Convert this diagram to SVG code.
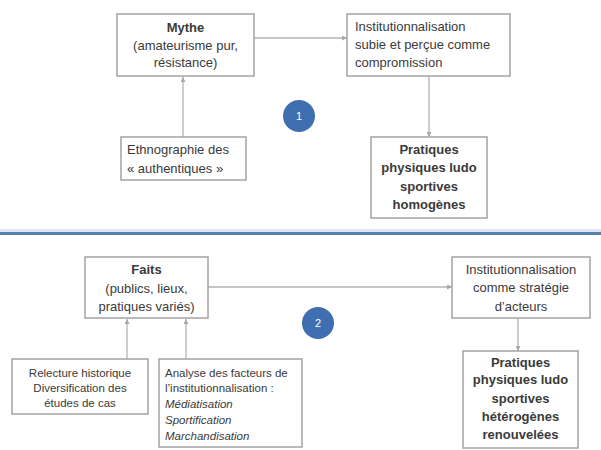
<svg xmlns="http://www.w3.org/2000/svg" width="601" height="450" viewBox="0 0 601 450">
<style>
.box{fill:#ffffff;stroke:#a3a3a3;stroke-width:1.5}
.con{fill:none;stroke:#b3b3b3;stroke-width:1.3;marker-end:url(#ah)}
text{font-family:"Liberation Sans",Arial,sans-serif;font-size:13px;fill:#3a3a3a}
.b{font-weight:bold}
.c{text-anchor:middle}
.s{font-size:11.5px}
.it{font-style:italic}
.num{fill:#ffffff;font-size:11px;text-anchor:middle}
</style>
<defs>
<marker id="ah" viewBox="0 0 6 6" refX="6" refY="3" markerWidth="5" markerHeight="5" orient="auto" markerUnits="userSpaceOnUse">
<path d="M0,0 L6,3 L0,6 z" fill="#a8a8a8"/>
</marker>
</defs>
<rect width="601" height="450" fill="#ffffff"/>
<rect x="0" y="229" width="601" height="3" fill="#dce6f1"/>
<rect x="0" y="232" width="601" height="3" fill="#5580b0"/>
<g id="connectors">
<line class="con" x1="254" y1="38" x2="347" y2="38"/>
<line class="con" x1="183" y1="137" x2="183" y2="77"/>
<line class="con" x1="429" y1="76" x2="429" y2="137"/>
<line class="con" x1="208" y1="287" x2="452" y2="287"/>
<line class="con" x1="127" y1="359" x2="127" y2="319"/>
<line class="con" x1="186" y1="359" x2="186" y2="319"/>
<line class="con" x1="518" y1="318" x2="518" y2="351"/>
</g>
<g id="mythe">
<rect class="box" x="117" y="14" width="137" height="62"/>
<text class="c b" x="185.5" y="32">Mythe</text>
<text class="c" x="185.5" y="50">(amateurisme pur,</text>
<text class="c" x="185.5" y="67">résistance)</text>
</g>
<g id="inst1">
<rect class="box" x="347" y="14" width="163" height="62"/>
<text x="355" y="31">Institutionnalisation</text>
<text x="355" y="49">subie et perçue comme</text>
<text x="355" y="67">compromission</text>
</g>
<g id="ethno">
<rect class="box" x="121" y="137" width="125" height="43"/>
<text x="127" y="154">Ethnographie des</text>
<text x="127" y="173">« authentiques »</text>
</g>
<g id="circle1">
<circle cx="299" cy="116" r="16" fill="#3f6fb0"/>
<text class="num" x="299" y="120">1</text>
</g>
<g id="prat1">
<rect class="box" x="371" y="137" width="116" height="81"/>
<text class="c b" x="429" y="154">Pratiques</text>
<text class="c b" x="429" y="172">physiques ludo</text>
<text class="c b" x="429" y="191">sportives</text>
<text class="c b" x="429" y="209">homogènes</text>
</g>
<g id="faits">
<rect class="box" x="85" y="257" width="123" height="61"/>
<text class="c b" x="146.5" y="274">Faits</text>
<text class="c" x="146.5" y="293">(publics, lieux,</text>
<text class="c" x="146.5" y="311">pratiques variés)</text>
</g>
<g id="inst2">
<rect class="box" x="452" y="257" width="138" height="61"/>
<text class="c" x="521" y="274">Institutionnalisation</text>
<text class="c" x="521" y="292">comme stratégie</text>
<text class="c" x="521" y="311">d’acteurs</text>
</g>
<g id="circle2">
<circle cx="318" cy="323" r="16" fill="#3f6fb0"/>
<text class="num" x="318" y="327">2</text>
</g>
<g id="relecture">
<rect class="box" x="12" y="359" width="136" height="55"/>
<text class="c s" x="80" y="377">Relecture historique</text>
<text class="c s" x="80" y="392">Diversification des</text>
<text class="c s" x="80" y="407">études de cas</text>
</g>
<g id="analyse">
<rect class="box" x="159" y="359" width="143" height="88"/>
<text class="s" x="165" y="377">Analyse des facteurs de</text>
<text class="s" x="165" y="392">l’institutionnalisation :</text>
<text class="s it" x="165" y="408">Médiatisation</text>
<text class="s it" x="165" y="424">Sportification</text>
<text class="s it" x="165" y="440">Marchandisation</text>
</g>
<g id="prat2">
<rect class="box" x="463" y="351" width="115" height="97"/>
<text class="c b" x="520.5" y="367">Pratiques</text>
<text class="c b" x="520.5" y="384">physiques ludo</text>
<text class="c b" x="520.5" y="403">sportives</text>
<text class="c b" x="520.5" y="421">hétérogènes</text>
<text class="c b" x="520.5" y="439">renouvelées</text>
</g>
</svg>
